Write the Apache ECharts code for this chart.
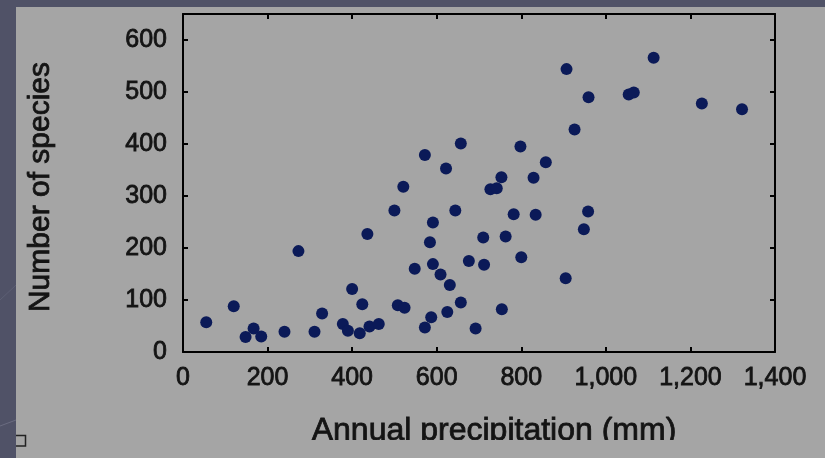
<!DOCTYPE html>
<html><head><meta charset="utf-8">
<script src="https://cdn.jsdelivr.net/npm/echarts@6/dist/echarts.min.js"></script>
<style>html,body{margin:0;padding:0;background:#505267;}#c{width:825px;height:458px;}</style>
</head><body><div id="c"></div>
<script>
const precipitation = [55,120,148,167,185,240,273,311,329,378,390,418,441,463,400,424,436,500,521,508,524,548,572,572,584,587,591,591,609,622,625,631,644,657,657,676,692,710,712,727,742,753,754,763,782,798,800,829,834,858,905,907,926,948,958,959,1054,1066,1113,1227,1322];
const species = [57,88,29,45,30,39,194,39,74,54,41,36,49,54,121,92,227,272,318,90,85,160,379,47,211,67,249,169,149,353,77,129,272,401,95,175,45,220,168,313,315,336,82,222,265,395,182,335,264,365,142,544,428,236,270,490,495,499,566,478,467];
const xTickStep = 200, xMax = 1400;
const yTickStep = 100, yMax = 650;
const xTitle = 'Annual precipitation (mm)';
const yTitle = 'Number of species';

const font = 'Liberation Sans, Arial, sans-serif';
const points = precipitation.map((p, i) => [p, species[i]]);
const lineStyle = {color: '#000', width: 2};
const tickStyle = {show: true, inside: true, length: 5, lineStyle: {color: '#000', width: 2}};
const textColor = '#141414';
const txt = {color: textColor, fontFamily: font, textBorderColor: textColor, textBorderWidth: 0.8};

const chart = echarts.init(document.getElementById('c'));
chart.setOption({
  backgroundColor: '#505267',
  animation: false,
  grid: {left: 183, right: 50, top: 14, bottom: 106},
  graphic: [
    {type: 'rect', z: -10, shape: {x: 16, y: 7, width: 809, height: 451}, style: {fill: '#a5a5a5'}},
    {type: 'line', z: -10, shape: {x1: 0, y1: 426, x2: 16, y2: 420}, style: {stroke: '#6a6c80', lineWidth: 1}},
    {type: 'line', z: -10, shape: {x1: 0, y1: 300, x2: 16, y2: 285}, style: {stroke: '#5d5f74', lineWidth: 1}},
    {type: 'rect', z: 100, shape: {x: 16, y: 440, width: 809, height: 18}, style: {fill: '#a5a5a5'}},
    {type: 'polyline', z: 101, shape: {points: [[16, 435.5], [25.5, 435.5], [25.5, 446], [16, 446]]}, style: {stroke: '#222', lineWidth: 1.5, fill: null}}
  ],
  xAxis: [{
    type: 'value', min: 0, max: xMax, interval: xTickStep, position: 'bottom',
    axisLine: {show: true, onZero: false, lineStyle},
    axisTick: tickStyle,
    splitLine: {show: false},
    axisLabel: Object.assign({margin: 14, fontSize: 25,
      formatter: v => v.toLocaleString('en-US')}, txt),
    name: xTitle, nameLocation: 'middle', nameGap: 63,
    nameTextStyle: Object.assign({fontSize: 32, padding: [0, 0, 0, 30]}, txt)
  }, {
    type: 'value', min: 0, max: xMax, interval: xTickStep, position: 'top',
    axisLine: {show: true, onZero: false, lineStyle},
    axisTick: tickStyle, axisLabel: {show: false}, splitLine: {show: false}
  }],
  yAxis: [{
    type: 'value', min: 0, max: yMax, interval: yTickStep, position: 'left',
    axisLine: {show: true, onZero: false, lineStyle},
    axisTick: tickStyle,
    splitLine: {show: false},
    axisLabel: Object.assign({margin: 16, fontSize: 25, showMaxLabel: false, padding: [4, 0, 0, 0]}, txt),
    name: yTitle, nameLocation: 'middle', nameGap: 127, nameRotate: 90,
    nameTextStyle: Object.assign({fontSize: 30, padding: [0, 8, 0, 0]}, txt)
  }, {
    type: 'value', min: 0, max: yMax, interval: yTickStep, position: 'right',
    axisLine: {show: true, onZero: false, lineStyle},
    axisTick: tickStyle, axisLabel: {show: false}, splitLine: {show: false}
  }],
  series: [{
    type: 'scatter', xAxisIndex: 0, yAxisIndex: 0,
    data: points, symbolSize: 12,
    itemStyle: {color: '#0b1a58', opacity: 1}
  }]
});
</script></body></html>
